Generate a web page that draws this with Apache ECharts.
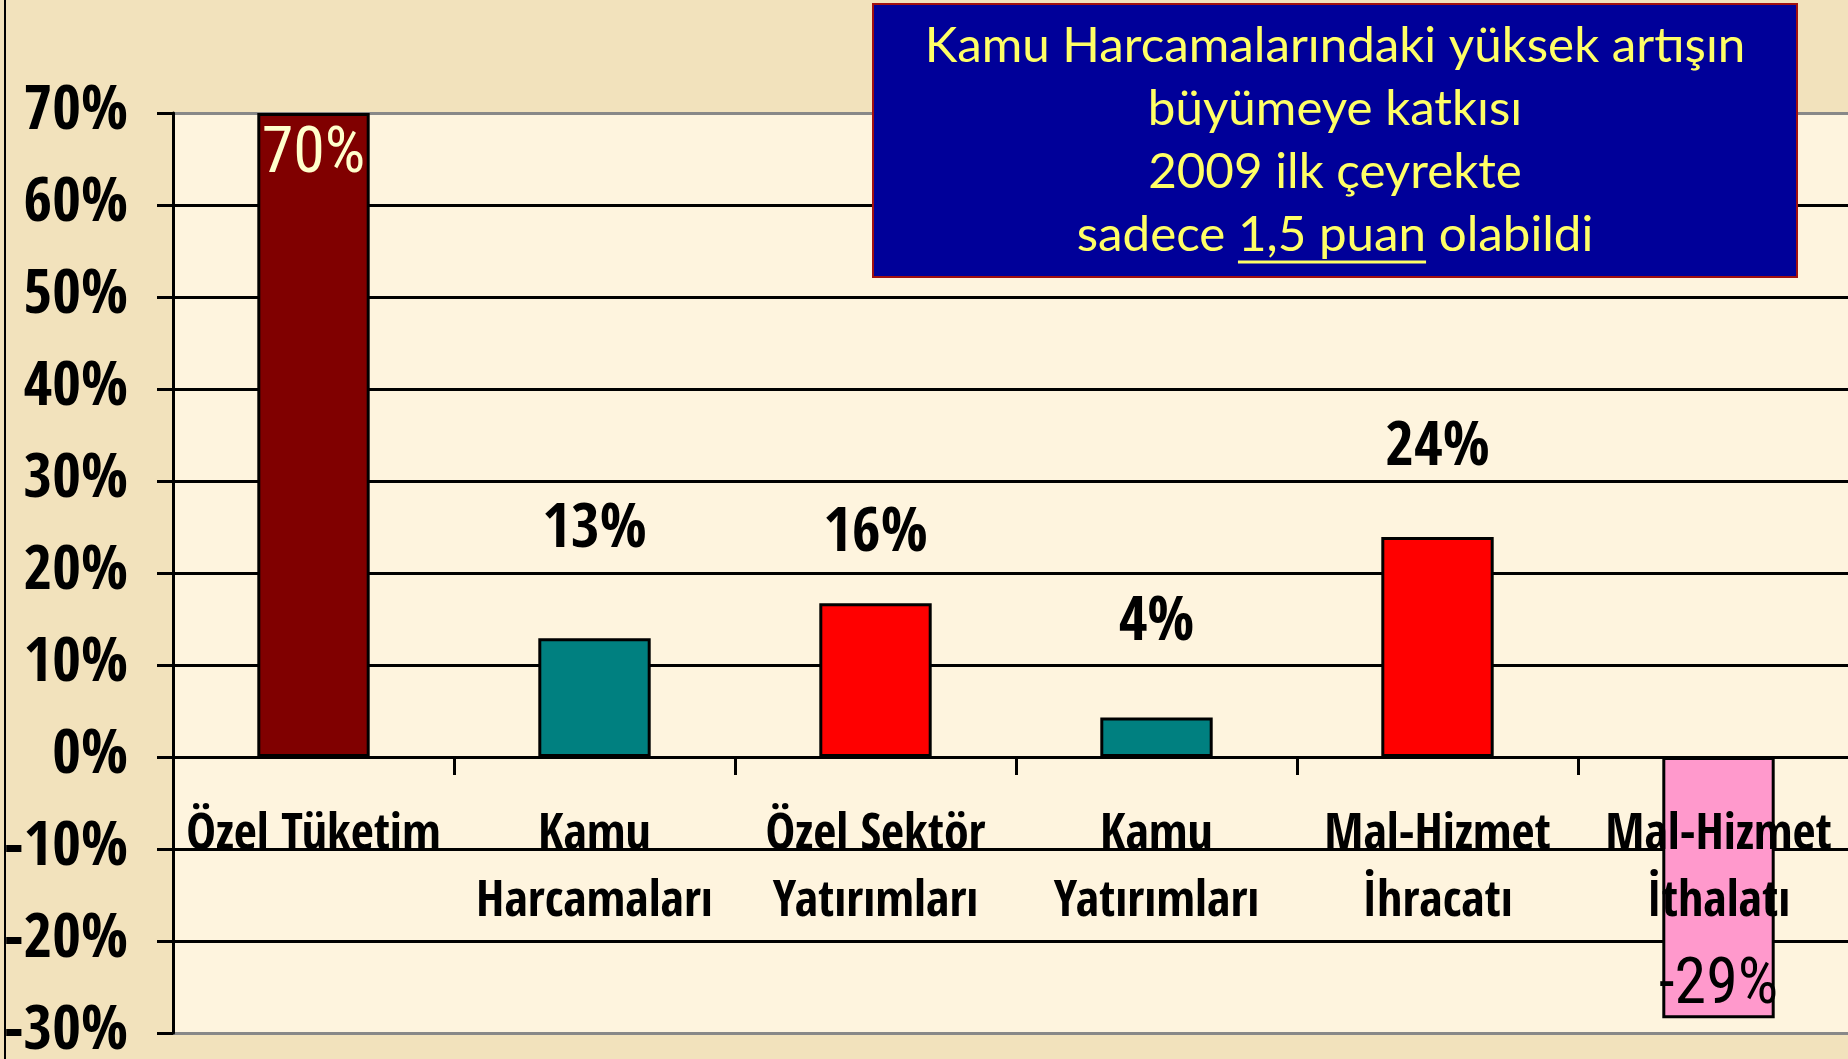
<!DOCTYPE html>
<html>
<head>
<meta charset="utf-8">
<script src="https://cdn.jsdelivr.net/npm/echarts@6/dist/echarts.min.js"></script>
<style>
  html, body { margin: 0; padding: 0; background: #F2E2BC; }
  #chart { width: 1848px; height: 1059px; }
</style>
</head>
<body>
<div id="chart"></div>
<script>
// ---- data ----
const categories = ['Özel Tüketim', 'Kamu\nHarcamaları', 'Özel Sektör\nYatırımları', 'Kamu\nYatırımları', 'Mal-Hizmet\nİhracatı', 'Mal-Hizmet\nİthalatı'];
const values = [70, 12.9, 16.7, 4.3, 23.9, -28.4];
const valueLabels = ['70%', '13%', '16%', '4%', '24%', '-29%'];
const barColors = ['#800000', '#008080', '#FF0000', '#008080', '#FF0000', '#FF99CC'];
const yMin = -30, yMax = 70, yStep = 10;
const noteLines = ['Kamu Harcamalarındaki yüksek artışın', 'büyümeye katkısı', '2009 ilk çeyrekte', 'sadece 1,5 puan olabildi'];
const notePlain = 'sadece ';
const noteUnderlined = '1,5 puan';

// ---- styles ----
const NARROW = "'Open Sans Condensed', 'Roboto Condensed', sans-serif";
const NARROW_REG = "'Roboto Condensed', 'Open Sans Condensed', sans-serif";
const NOTE_FONT = "Lato, 'Open Sans', sans-serif";
const labelStyles = [
  { position: 'insideTop', distance: 12, color: '#FFFFCC', fontWeight: 'normal', fontFamily: NARROW_REG, fontSize: 64 },
  { position: 'top', distance: 77, color: '#000', fontWeight: 'bold' },
  { position: 'top', distance: 38, color: '#000', fontWeight: 'bold' },
  { position: 'top', distance: 63, color: '#000', fontWeight: 'bold' },
  { position: 'top', distance: 57, color: '#000', fontWeight: 'bold' },
  { position: 'insideBottom', distance: 0, color: '#000', fontWeight: 'normal', fontFamily: NARROW_REG, fontSize: 64 }
];

const cv = document.createElement('canvas').getContext('2d');
function mw(t, size) { cv.font = size + 'px ' + NOTE_FONT; return cv.measureText(t).width; }
const noteSize = 100 * 821 / mw(noteLines[0], 100);
const boxX = 873, boxY = 4, boxW = 924, boxH = 273;
const noteCx = boxX + boxW / 2;
const noteCenters = [46, 109, 172, 235];
const lastW = mw(noteLines[3], noteSize);
const ulStart = noteCx - lastW / 2 + mw(notePlain, noteSize);
const ulEnd = ulStart + mw(noteUnderlined, noteSize);

const splitColors = [];
for (let v = yMin; v <= yMax; v += yStep) splitColors.push((v === yMin || v === yMax) ? '#888888' : '#000000');

const gridTop = 113, gridBottom = 26, H = 1059;
const gridH = H - gridTop - gridBottom;
const zeroOffset = -gridH * (0 - yMin) / (yMax - yMin);

const chart = echarts.init(document.getElementById('chart'), null, { renderer: 'canvas' });
chart.setOption({
  backgroundColor: '#F2E2BC',
  animation: false,
  grid: { left: 173, top: gridTop, bottom: gridBottom, right: -11, show: true, backgroundColor: '#FEF4DE', borderWidth: 0, containLabel: false, outerBoundsMode: 'none' },
  xAxis: {
    type: 'category',
    data: categories,
    position: 'bottom',
    offset: zeroOffset,
    z: 10,
    axisLine: { onZero: false, lineStyle: { color: '#000', width: 3 } },
    axisTick: { show: true, length: 18, lineStyle: { color: '#000', width: 3 } },
    axisLabel: { show: true, interval: 0, hideOverlap: false, fontFamily: NARROW, fontSize: 50, fontWeight: 'bold', color: '#000', lineHeight: 67, margin: 45 },
    splitLine: { show: false }
  },
  yAxis: {
    type: 'value', min: yMin, max: yMax, interval: yStep,
    axisLine: { show: true, lineStyle: { color: '#000', width: 3 } },
    axisTick: { show: true, length: 16, lineStyle: { color: '#000', width: 3 } },
    axisLabel: { formatter: '{value}%', fontFamily: NARROW, fontSize: 62, fontWeight: 'bold', color: '#000', margin: 45 },
    splitLine: { show: true, lineStyle: { color: splitColors, width: 3 } }
  },
  series: [{
    type: 'bar',
    barWidth: '40%',
    data: values.map((v, i) => ({
      value: v,
      itemStyle: { color: barColors[i], borderColor: '#000', borderWidth: 3 },
      label: Object.assign({ show: true, formatter: valueLabels[i], fontFamily: NARROW, fontSize: 62, lineHeight: 62 }, labelStyles[i])
    }))
  }],
  graphic: [
    { type: 'line', shape: { x1: 5, y1: 0, x2: 5, y2: 1059 }, style: { stroke: '#000', lineWidth: 2 }, z: 100 },
    { type: 'rect', shape: { x: boxX, y: boxY, width: boxW, height: boxH }, style: { fill: '#000099', stroke: '#A01010', lineWidth: 2 }, z: 100 },
    ...noteLines.map((t, i) => ({
      type: 'text', x: noteCx, y: noteCenters[i], z: 101,
      style: { text: t, fill: '#FFFF66', font: noteSize.toFixed(1) + 'px ' + NOTE_FONT, align: 'center', verticalAlign: 'middle' }
    })),
    { type: 'line', shape: { x1: ulStart, y1: 262, x2: ulEnd, y2: 262 }, style: { stroke: '#FFFF66', lineWidth: 3 }, z: 101 }
  ]
});
</script>
</body>
</html>
